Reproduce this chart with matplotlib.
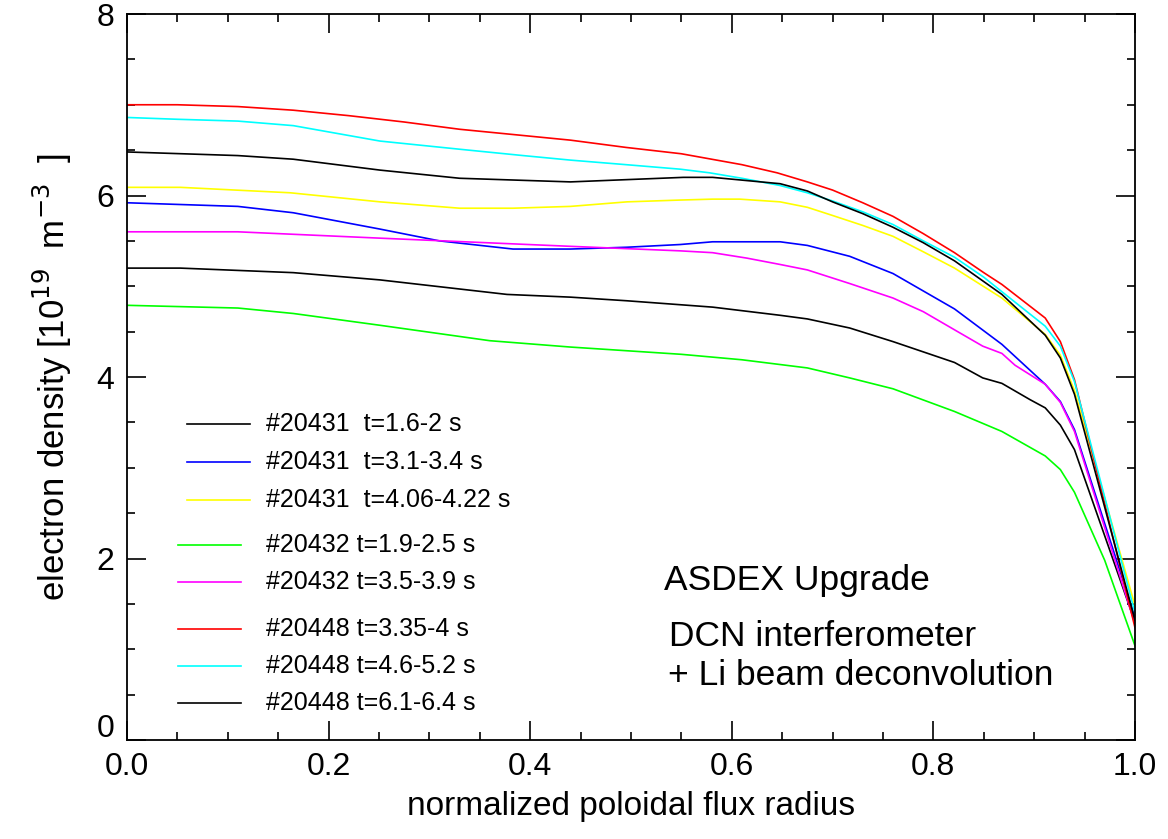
import numpy as np
import matplotlib
matplotlib.use('Agg')
import matplotlib.pyplot as plt
import matplotlib.transforms as mtransforms
from matplotlib.ticker import MultipleLocator

plt.rcParams['font.family'] = ['Liberation Sans', 'DejaVu Sans']

# profiles: (rho_pol, n_e in 1e19 m^-3)
x_red = [0.0, 0.05, 0.11, 0.165, 0.22, 0.275, 0.33, 0.385, 0.44, 0.495, 0.55, 0.58, 0.61, 0.645, 0.675, 0.70, 0.73, 0.76, 0.79, 0.821, 0.85, 0.868, 0.911, 0.926, 0.94, 1.0]
y_red = [7.00, 7.00, 6.98, 6.94, 6.88, 6.81, 6.73, 6.67, 6.61, 6.53, 6.46, 6.40, 6.34, 6.25, 6.15, 6.06, 5.92, 5.77, 5.58, 5.37, 5.15, 5.02, 4.65, 4.39, 3.97, 1.24]

x_cyan = [0.0, 0.05, 0.11, 0.165, 0.251, 0.33, 0.393, 0.44, 0.495, 0.549, 0.578, 0.61, 0.648, 0.675, 0.70, 0.73, 0.76, 0.79, 0.821, 0.85, 0.868, 0.911, 0.926, 0.94, 1.0]
y_cyan = [6.86, 6.84, 6.82, 6.77, 6.60, 6.51, 6.44, 6.39, 6.34, 6.29, 6.25, 6.19, 6.11, 6.03, 5.94, 5.82, 5.68, 5.50, 5.32, 5.10, 4.94, 4.56, 4.34, 3.95, 1.40]

x_blk2 = [0.0, 0.11, 0.165, 0.251, 0.33, 0.44, 0.552, 0.581, 0.648, 0.675, 0.70, 0.73, 0.76, 0.79, 0.821, 0.868, 0.911, 0.926, 0.94, 1.0]
y_blk2 = [6.48, 6.44, 6.40, 6.28, 6.19, 6.15, 6.20, 6.20, 6.13, 6.05, 5.93, 5.80, 5.65, 5.48, 5.28, 4.91, 4.46, 4.21, 3.81, 1.32]

x_yel = [0.0, 0.053, 0.162, 0.251, 0.33, 0.383, 0.44, 0.496, 0.549, 0.581, 0.608, 0.648, 0.675, 0.70, 0.73, 0.76, 0.79, 0.821, 0.868, 0.911, 0.926, 0.94, 1.0]
y_yel = [6.09, 6.09, 6.03, 5.93, 5.86, 5.86, 5.88, 5.93, 5.95, 5.96, 5.96, 5.93, 5.87, 5.78, 5.67, 5.55, 5.38, 5.20, 4.87, 4.47, 4.24, 3.85, 1.48]

x_blue = [0.0, 0.11, 0.165, 0.251, 0.31, 0.383, 0.44, 0.496, 0.549, 0.581, 0.648, 0.675, 0.717, 0.76, 0.821, 0.868, 0.911, 0.926, 0.94, 1.0]
y_blue = [5.92, 5.88, 5.81, 5.63, 5.50, 5.41, 5.41, 5.43, 5.46, 5.49, 5.49, 5.45, 5.33, 5.14, 4.75, 4.36, 3.92, 3.73, 3.42, 1.35]

x_mag = [0.0, 0.11, 0.251, 0.44, 0.549, 0.581, 0.615, 0.648, 0.675, 0.717, 0.76, 0.79, 0.821, 0.849, 0.868, 0.881, 0.911, 0.926, 0.94, 1.0]
y_mag = [5.60, 5.60, 5.53, 5.44, 5.39, 5.37, 5.31, 5.24, 5.18, 5.03, 4.87, 4.72, 4.52, 4.34, 4.26, 4.13, 3.92, 3.72, 3.40, 1.28]

x_blk1 = [0.0, 0.053, 0.165, 0.251, 0.377, 0.44, 0.496, 0.581, 0.648, 0.675, 0.717, 0.76, 0.821, 0.849, 0.868, 0.896, 0.911, 0.926, 0.94, 1.0]
y_blk1 = [5.20, 5.20, 5.15, 5.07, 4.91, 4.88, 4.84, 4.77, 4.68, 4.64, 4.54, 4.39, 4.16, 3.99, 3.93, 3.75, 3.66, 3.47, 3.20, 1.30]

x_grn = [0.0, 0.11, 0.165, 0.251, 0.36, 0.44, 0.55, 0.61, 0.675, 0.717, 0.76, 0.821, 0.868, 0.911, 0.926, 0.94, 0.97, 1.0]
y_grn = [4.79, 4.76, 4.70, 4.57, 4.40, 4.33, 4.25, 4.19, 4.10, 3.99, 3.87, 3.62, 3.40, 3.13, 2.98, 2.73, 1.98, 1.04]

labels = ['#20431  t=1.6-2 s', '#20431  t=3.1-3.4 s', '#20431  t=4.06-4.22 s',
          '#20432 t=1.9-2.5 s', '#20432 t=3.5-3.9 s',
          '#20448 t=3.35-4 s', '#20448 t=4.6-5.2 s', '#20448 t=6.1-6.4 s']
colors = ['black', '#0000ff', '#ffff00', '#00ff00', '#ff00ff', '#ff0000', '#00ffff', 'black']
xs = [x_blk1, x_blue, x_yel, x_grn, x_mag, x_red, x_cyan, x_blk2]
ys = [y_blk1, y_blue, y_yel, y_grn, y_mag, y_red, y_cyan, y_blk2]

fig = plt.figure(figsize=(11.68, 8.39), dpi=100)
ax = fig.add_axes([0.1087, 0.118, 0.8630, 0.8653])

for xx, yy, c in zip(xs, ys, colors):
    ax.plot(xx, yy, color=c, lw=1.2)

# hand-made legend (data coords, as in the original plot)
leg_y = [3.48, 3.06, 2.65, 2.15, 1.74, 1.22, 0.82, 0.41]
for i, (lab, c) in enumerate(zip(labels, colors)):
    x0 = 0.060 if i < 3 else 0.051
    ax.plot([x0, x0 + 0.062], [leg_y[i], leg_y[i]], color=c, lw=1.2)
    ax.text(0.138, leg_y[i], lab, fontsize=18, va='center', ha='left')

ax.text(0.533, 1.76, 'ASDEX Upgrade', fontsize=25.5, va='center')
ax.text(0.538, 1.14, 'DCN interferometer', fontsize=25.5, va='center')
ax.text(0.537, 0.71, '+ Li beam deconvolution', fontsize=25.5, va='center')

ax.set_xlim(0, 1)
ax.set_ylim(0, 8)
ax.xaxis.set_major_locator(MultipleLocator(0.2))
ax.xaxis.set_minor_locator(MultipleLocator(0.05))
ax.yaxis.set_major_locator(MultipleLocator(2))
ax.yaxis.set_minor_locator(MultipleLocator(0.5))
ax.xaxis.set_major_formatter(plt.FormatStrFormatter('%.1f'))
ax.tick_params(which='both', direction='in', top=True, right=True, labelsize=23, width=1.2)
ax.tick_params(which='major', length=14, pad=9)
ax.tick_params(which='minor', length=6)
for s in ax.spines.values():
    s.set_linewidth(1.3)

# the "0" on the y axis sits a bit higher in the original (IDL style)
ax.set_yticks([0, 2, 4, 6, 8])
lab0 = ax.yaxis.get_major_ticks()[0].label1
lab0.set_transform(lab0.get_transform() + mtransforms.ScaledTranslation(0, 14 / 100, fig.dpi_scale_trans))

ax.set_xlabel('normalized poloidal flux radius', fontsize=24, labelpad=6)
ax.set_ylabel('electron density [10$^{19}$  m$^{-3}$  ]', fontsize=25, labelpad=16)

fig.savefig('out.png', dpi=100)
